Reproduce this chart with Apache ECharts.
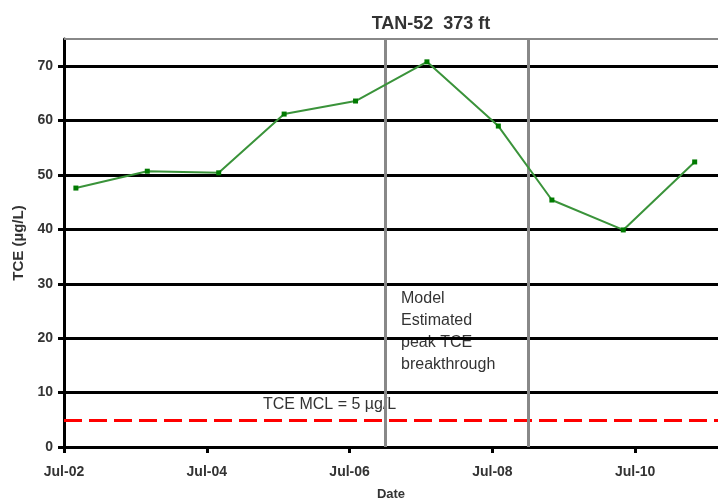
<!DOCTYPE html>
<html>
<head>
<meta charset="utf-8">
<script src="https://cdn.jsdelivr.net/npm/echarts@6/dist/echarts.min.js"></script>
<style>
  html, body { margin: 0; padding: 0; background: #fff; }
  #chart { width: 718px; height: 500px; }
</style>
</head>
<body>
<div id="chart"></div>
<script>
// sample dates (year, month) and TCE values
const sampleDates = [[2002, 9], [2003, 9], [2004, 9], [2005, 8], [2006, 8], [2007, 8], [2008, 8], [2009, 5], [2010, 5], [2011, 5]];
const tceValues = [47.6, 50.7, 50.4, 61.2, 63.6, 70.8, 59.0, 45.4, 39.9, 52.4];

// x axis is years since Jul-02
const xTicks = [0, 2, 4, 6, 8];
const xTickLabels = ['Jul-02', 'Jul-04', 'Jul-06', 'Jul-08', 'Jul-10'];
const yTicks = [0, 10, 20, 30, 40, 50, 60, 70];
const breakthroughLines = [[2007, 1], [2009, 1]];
const mcl = 5;

const toX = (d) => d[0] + (d[1] - 1) / 12 - 2002.5;
const seriesData = sampleDates.map((d, i) => [toX(d), tceValues[i]]);

const font = 'Liberation Sans, Arial, sans-serif';
const chart = echarts.init(document.getElementById('chart'));

const option = {
  animation: false,
  title: {
    text: 'TAN-52  373 ft',
    left: 426,
    top: 10,
    textAlign: 'center',
    textStyle: { fontFamily: font, fontSize: 18, fontWeight: 'bold', color: '#333' }
  },
  grid: { left: 64, top: 39, right: 0, bottom: 53, outerBoundsMode: 'none' },
  xAxis: {
    type: 'value',
    min: 0,
    max: 9.16,
    name: 'Date',
    nameLocation: 'middle',
    nameGap: 41,
    nameTextStyle: { fontFamily: font, fontSize: 13, fontWeight: 'bold', color: '#333' },
    axisLine: { lineStyle: { color: '#000', width: 3 } },
    axisTick: { customValues: xTicks, length: 6, lineStyle: { color: '#000', width: 3 } },
    axisLabel: {
      customValues: xTicks,
      margin: 18,
      fontFamily: font, fontSize: 14, fontWeight: 'bold', color: '#333',
      formatter: (v) => xTickLabels[xTicks.indexOf(v)] || ''
    },
    splitLine: { show: false }
  },
  yAxis: {
    type: 'value',
    min: 0,
    max: 75,
    interval: 10,
    name: 'TCE (µg/L)',
    nameLocation: 'middle',
    nameGap: 38,
    nameTextStyle: { fontFamily: font, fontSize: 15, fontWeight: 'bold', color: '#333' },
    axisLine: { show: true, lineStyle: { color: '#000', width: 3 } },
    axisTick: { show: true, customValues: yTicks, length: 6, lineStyle: { color: '#000', width: 3 } },
    axisLabel: { customValues: yTicks, margin: 11, fontFamily: font, fontSize: 14, fontWeight: 'bold', color: '#333' },
    splitLine: { show: false }
  },
  graphic: [
    {
      type: 'text', left: 263, top: 397,
      style: { text: 'TCE MCL = 5 µg/L', font: '16px ' + font, fill: '#333' }
    },
    {
      type: 'text', left: 401, top: 288,
      style: { text: 'Model\nEstimated\npeak TCE\nbreakthrough', font: '16px ' + font, fill: '#333', lineHeight: 22 }
    }
  ],
  series: [
    {
      type: 'line',
      data: seriesData,
      symbol: 'rect',
      symbolSize: 5,
      z: 5,
      lineStyle: { color: '#3a933a', width: 2 },
      itemStyle: { color: '#007a00' },
      markLine: {
        silent: true,
        symbol: 'none',
        label: { show: false },
        data: [
          ...yTicks.filter(v => v > 0).map(v => ({ yAxis: v, lineStyle: { color: '#000', width: 3, type: 'solid' } })),
          { yAxis: 75, lineStyle: { color: '#888', width: 2, type: 'solid' } },
          { yAxis: mcl, lineStyle: { color: '#ff0000', width: 3, type: [18, 7] } },
          ...breakthroughLines.map(d => ({ xAxis: toX(d), lineStyle: { color: '#888', width: 3, type: 'solid' } }))
        ]
      }
    }
  ]
};

chart.setOption(option);
</script>
</body>
</html>
